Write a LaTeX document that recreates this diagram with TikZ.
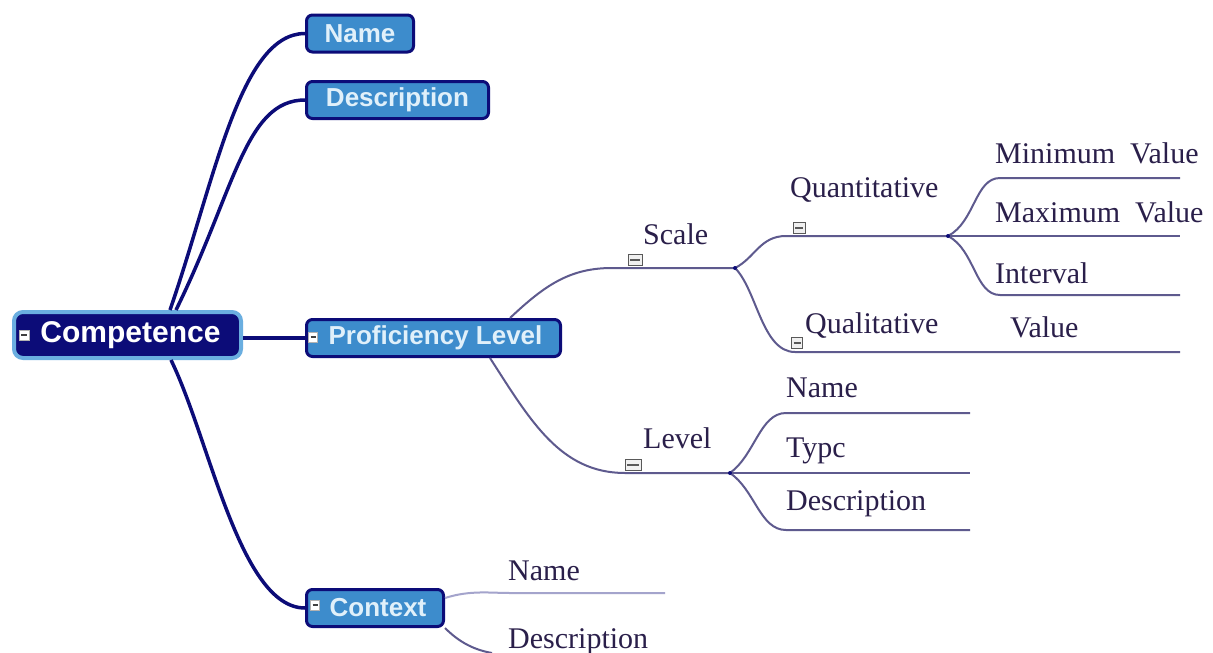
\documentclass[tikz,border=0pt]{standalone}
\usepackage{fontspec}
\setmainfont{Liberation Serif}
\newfontfamily\boxfont{Liberation Sans}
\definecolor{navy}{HTML}{0C0C78}
\definecolor{lightblue}{HTML}{6AAEE0}
\definecolor{midblue}{HTML}{3D8CCC}
\definecolor{boxtext}{HTML}{E0F0FA}
\definecolor{thinc}{HTML}{5E5A8E}
\definecolor{paleline}{HTML}{A4A4CC}
\definecolor{lblc}{HTML}{2A1F4A}
\begin{document}
\begin{tikzpicture}[x=1pt,y=-1pt,
 bigbox/.style={draw=lightblue, line width=4pt, fill=navy, rounded corners=9pt, minimum width=227pt, minimum height=46pt, text=white, font=\boxfont\bfseries\fontsize{30}{32}\selectfont, inner sep=0pt},
 bluebox/.style={draw=navy, line width=3pt, fill=midblue, rounded corners=6pt, minimum height=37pt, text=boxtext, font=\boxfont\bfseries\fontsize{26}{28}\selectfont, inner sep=0pt},
 mainline/.style={draw=navy, line width=3.5pt},
 thinline/.style={draw=thinc, line width=2pt},
 paleconn/.style={draw=paleline, line width=2pt},
 lbl/.style={anchor=base west, inner sep=0pt, text=lblc, font=\fontsize{30}{32}\selectfont},
 boxicon/.style={draw=gray!60, fill=white, line width=0.8pt, minimum width=10pt, minimum height=10pt, inner sep=0pt,
   path picture={\draw[black!75,line width=1.6pt] ([xshift=2pt]path picture bounding box.west) -- ([xshift=-2pt]path picture bounding box.east);}},
 lineicon/.style={draw=gray!70!black, fill=gray!12, line width=0.8pt, minimum width=14pt, minimum height=11pt, inner sep=0pt,
   path picture={\draw[gray!70!black,line width=1.2pt] ([xshift=2pt]path picture bounding box.west) -- ([xshift=-2pt]path picture bounding box.east);}},
 jdot/.style={circle, fill=navy, inner sep=0pt, minimum size=4pt},
]
\useasboundingbox[fill=white] (0,0) rectangle (1213,653);

% main boxes
\node[bigbox] (comp) at (127.5,335) {\hspace{6pt}Competence};
\node[boxicon] (compicon) at (24,335) {};
\node[bluebox, minimum width=107pt] (name) at (360,33.5) {Name};
\node[bluebox, minimum width=182pt] (desc) at (397.5,100) {Description};
\node[bluebox, minimum width=254pt] (prof) at (433.5,338) {\hspace{4pt}Proficiency Level};
\node[boxicon, minimum width=9pt] (proficon) at (313,337) {};
\node[bluebox, minimum width=137pt] (ctx) at (375,608) {\hspace{6pt}Context};
\node[boxicon, minimum width=9pt] (ctxicon) at (315,605) {};

% main connectors
\coordinate (c1) at (170,310);
\coordinate (c2) at (176,310);
\coordinate (c3) at (171,360);
\draw[mainline] (c1) .. controls (215,180) and (240,33.5) .. (name.west);
\draw[mainline] (c2) .. controls (235,190) and (245,100) .. (desc.west);
\draw[mainline] (comp.east |- prof.west) -- (prof.west);
\draw[mainline] (c3) .. controls (210,440) and (240,608) .. (ctx.west);

% proficiency level sub-tree
\coordinate (pfTop) at (510,318);
\coordinate (pfBot) at (490,358);
\coordinate (scaleL) at (612,268);
\coordinate (J1) at (735,268);
\coordinate (quantL) at (786,236);
\coordinate (J2) at (948,236);
\coordinate (minL) at (1000,178);
\coordinate (minR) at (1180,178);
\coordinate (maxR) at (1180,236);
\coordinate (intL) at (1000,295);
\coordinate (intR) at (1180,295);
\coordinate (qualL) at (795,352);
\coordinate (qualR) at (1180,352);
\coordinate (levelL) at (625,473);
\coordinate (J3) at (730,473);
\coordinate (lnL) at (786,413);
\coordinate (lnR) at (970,413);
\coordinate (ltR) at (970,473);
\coordinate (ldL) at (786,530);
\coordinate (ldR) at (970,530);

\draw[thinline] (pfTop) .. controls (545,285) and (570,268) .. (scaleL) -- (J1);
\draw[thinline] (J1) .. controls (755,258) and (760,236) .. (quantL) -- (J2);
\draw[thinline] (J1) .. controls (757,290) and (762,352) .. (qualL) -- (qualR);
\draw[thinline] (J2) .. controls (975,222) and (975,178) .. (minL) -- (minR);
\draw[thinline] (J2) -- (maxR);
\draw[thinline] (J2) .. controls (975,250) and (975,295) .. (intL) -- (intR);
\draw[thinline] (pfBot) .. controls (530,420) and (560,473) .. (levelL) -- (J3);
\draw[thinline] (J3) .. controls (755,455) and (760,413) .. (lnL) -- (lnR);
\draw[thinline] (J3) -- (ltR);
\draw[thinline] (J3) .. controls (755,490) and (760,530) .. (ldL) -- (ldR);

\node[jdot] (d1) at (J1) {};
\node[jdot] (d2) at (J2) {};
\node[jdot] (d3) at (J3) {};

% line icons
\node[lineicon] (scaleicon) at (635,260) {};
\node[lineicon, minimum width=12pt] (quanticon) at (799,228) {};
\node[lineicon, minimum width=11pt] (qualicon) at (797,343) {};
\node[lineicon, minimum width=16pt] (levelicon) at (633,465) {};

% labels
\node[lbl] (tscale) at (643,244) {Scale};
\node[lbl] (tquant) at (790,197) {Quantitative};
\node[lbl] (tmin) at (995,163) {Minimum~~Value};
\node[lbl] (tmax) at (995,222) {Maximum~~Value};
\node[lbl] (tint) at (995,283) {Interval};
\node[lbl] (tqual) at (805,333) {Qualitative};
\node[lbl] (tval) at (1010,337) {Value};
\node[lbl] (tlevel) at (643,448) {Level};
\node[lbl] (tlname) at (786,397) {Name};
\node[lbl] (tltype) at (786,457) {Typc};
\node[lbl] (tldesc) at (786,510) {Description};

% context sub-tree
\coordinate (ctxA) at (445,598);
\coordinate (ctxNameL) at (510,593);
\coordinate (ctxNameR) at (665,593);
\coordinate (ctxB) at (445,628);
\coordinate (ctxDescEnd) at (492,653);
\draw[paleconn] (ctxA) .. controls (470,590) and (490,593) .. (ctxNameL) -- (ctxNameR);
\draw[thinline] (ctxB) .. controls (460,643) and (475,650) .. (ctxDescEnd);
\node[lbl] (tcname) at (508,580) {Name};
\node[lbl] (tcdesc) at (508,648) {Description};
\end{tikzpicture}
\end{document}
